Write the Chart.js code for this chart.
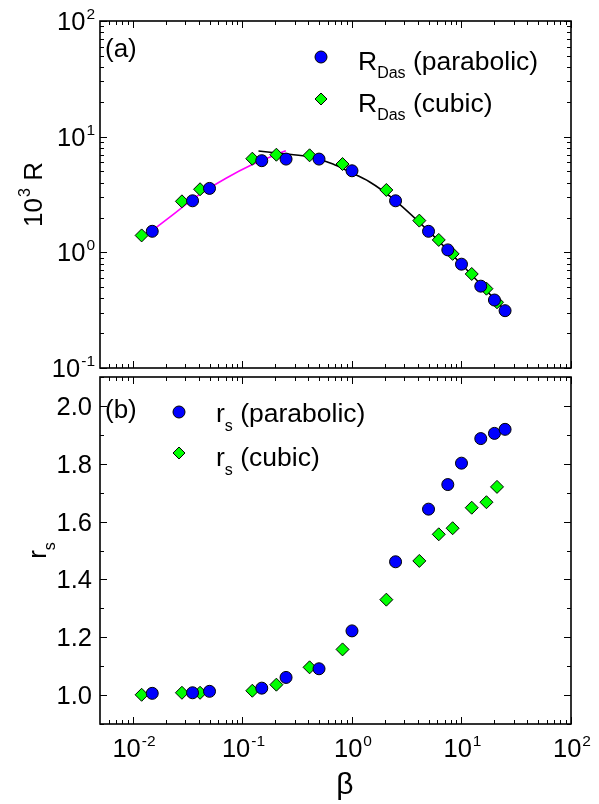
<!DOCTYPE html>
<html>
<head>
<meta charset="utf-8">
<script src="https://cdn.jsdelivr.net/npm/chart.js@4.4.1/dist/chart.umd.min.js"></script>
<style>
  html, body { margin: 0; padding: 0; background: #ffffff; }
  #wrap { position: relative; width: 599px; height: 804px; }
  #wrap canvas { position: absolute; left: 0; top: 0; }
</style>
</head>
<body>
<div id="wrap">
  <canvas id="panelA" width="599" height="804"></canvas>
  <canvas id="panelB" width="599" height="804"></canvas>
</div>
<script>
// ---- data ----
const betaParabolic = [0.015, 0.035, 0.05, 0.15, 0.25, 0.5, 1.0, 2.5, 5.0, 7.5, 10, 15, 20, 25];
const betaCubic     = [0.012, 0.028, 0.041, 0.123, 0.204, 0.41, 0.82, 2.06, 4.12, 6.2, 8.3, 12.4, 16.9, 21.1];

// 10^3 R
const rDasParabolic = [1.52, 2.79, 3.57, 6.2, 6.4, 6.4, 5.07, 2.79, 1.52, 1.05, 0.79, 0.51, 0.387, 0.313];
const rDasCubic     = [1.40, 2.76, 3.51, 6.45, 6.98, 6.90, 5.80, 3.46, 1.88, 1.28, 0.97, 0.65, 0.485, 0.37];

// r_s
const rsParabolic = [1.006, 1.008, 1.013, 1.024, 1.061, 1.091, 1.222, 1.461, 1.643, 1.728, 1.802, 1.887, 1.905, 1.919];
const rsCubic     = [1.001, 1.008, 1.008, 1.015, 1.036, 1.096, 1.158, 1.330, 1.464, 1.556, 1.577, 1.648, 1.667, 1.720];

// fitted curves in panel (a)
const fitLowBeta  = [0.015, 0.0229, 0.0373, 0.0701, 0.123, 0.249];
const fitLowR     = [1.54, 2.10, 3.00, 4.35, 5.75, 7.56];
const fitHighBeta = [0.14, 0.25, 0.41, 0.67, 0.94, 1.44, 2.35, 4.95, 9.95, 20.1, 25];
const fitHighR    = [7.51, 7.08, 6.71, 5.80, 4.98, 4.08, 2.93, 1.54, 0.792, 0.392, 0.313];

// axis ticks
const betaDecades = [-2, -1, 0, 1, 2];
const rDecades    = [-1, 0, 1, 2];
const rsMajor     = [1.0, 1.2, 1.4, 1.6, 1.8, 2.0];
const rsMinor     = [0.9, 1.1, 1.3, 1.5, 1.7, 1.9, 2.1];

const FONT = "'Liberation Sans', Arial, Helvetica, sans-serif";
const BLUE = '#0000ff';
const GREEN = '#00ff00';
const TICK_FONT = 25.5, EXP_FONT = 15.5;

function pts(xs, ys) { return xs.map((x, i) => ({ x: x, y: ys[i] })); }

function logMinors(min, max) {
  const out = [];
  for (let d = Math.floor(Math.log10(min)) - 1; d <= Math.ceil(Math.log10(max)); d++) {
    for (let m = 2; m <= 9; m++) {
      const v = m * Math.pow(10, d);
      if (v > min && v < max) out.push(v);
    }
  }
  return out;
}

function drawCircle(ctx, x, y, r) {
  ctx.beginPath(); ctx.arc(x, y, r, 0, Math.PI * 2);
  ctx.fillStyle = BLUE; ctx.fill();
  ctx.lineWidth = 1; ctx.strokeStyle = '#000'; ctx.stroke();
}
function drawDiamond(ctx, x, y, r) {
  ctx.beginPath();
  ctx.moveTo(x, y - r); ctx.lineTo(x + r, y); ctx.lineTo(x, y + r); ctx.lineTo(x - r, y); ctx.closePath();
  ctx.fillStyle = GREEN; ctx.fill();
  ctx.lineWidth = 1; ctx.strokeStyle = '#000'; ctx.stroke();
}

// "10" with a raised exponent
function powWidth(ctx, exp, size, expSize) {
  ctx.font = size + 'px ' + FONT; const a = ctx.measureText('10').width;
  ctx.font = expSize + 'px ' + FONT; const b = ctx.measureText(String(exp)).width;
  return a + b + 1;
}
function drawPow(ctx, exp, x, baseline, size, expSize) {
  ctx.textAlign = 'left'; ctx.textBaseline = 'alphabetic'; ctx.fillStyle = '#000';
  ctx.font = size + 'px ' + FONT;
  ctx.fillText('10', x, baseline);
  const a = ctx.measureText('10').width;
  ctx.font = expSize + 'px ' + FONT;
  ctx.fillText(String(exp), x + a + 1, baseline - 11);
}

// text with a lowered subscript
function drawSub(ctx, main, sub, rest, x, baseline, size, subSize, drop) {
  ctx.textAlign = 'left'; ctx.textBaseline = 'alphabetic'; ctx.fillStyle = '#000';
  ctx.font = size + 'px ' + FONT;
  ctx.fillText(main, x, baseline);
  let cx = x + ctx.measureText(main).width;
  ctx.font = subSize + 'px ' + FONT;
  ctx.fillText(sub, cx, baseline + drop);
  cx += ctx.measureText(sub).width;
  ctx.font = size + 'px ' + FONT;
  ctx.fillText(rest, cx, baseline);
}

// frame and inward ticks on all four sides
function drawFrame(chart, yMajor, yMinor) {
  const ctx = chart.ctx;
  const a = chart.chartArea;
  const xs = chart.scales.x, ys = chart.scales.y;
  const MAJ = 7, MIN = 4;
  ctx.save();
  ctx.strokeStyle = '#000';
  ctx.lineWidth = 1;
  ctx.beginPath();
  const xMaj = betaDecades.map(d => Math.pow(10, d));
  const xMin = logMinors(xs.min, xs.max);
  xMaj.forEach(v => { const p = Math.round(xs.getPixelForValue(v)) + 0.5;
    ctx.moveTo(p, a.bottom); ctx.lineTo(p, a.bottom - MAJ);
    ctx.moveTo(p, a.top); ctx.lineTo(p, a.top + MAJ); });
  xMin.forEach(v => { const p = Math.round(xs.getPixelForValue(v)) + 0.5;
    ctx.moveTo(p, a.bottom); ctx.lineTo(p, a.bottom - MIN);
    ctx.moveTo(p, a.top); ctx.lineTo(p, a.top + MIN); });
  yMajor.forEach(v => { const p = Math.round(ys.getPixelForValue(v)) + 0.5;
    ctx.moveTo(a.left, p); ctx.lineTo(a.left + MAJ, p);
    ctx.moveTo(a.right, p); ctx.lineTo(a.right - MAJ, p); });
  yMinor.forEach(v => { const p = Math.round(ys.getPixelForValue(v)) + 0.5;
    ctx.moveTo(a.left, p); ctx.lineTo(a.left + MIN, p);
    ctx.moveTo(a.right, p); ctx.lineTo(a.right - MIN, p); });
  ctx.stroke();
  ctx.lineWidth = 1.6;
  ctx.strokeRect(a.left, a.top, a.right - a.left, a.bottom - a.top);
  ctx.restore();
}

const panelAPlugin = {
  id: 'panelADecor',
  afterDraw(chart) {
    const ctx = chart.ctx, a = chart.chartArea, ys = chart.scales.y;
    const yMaj = rDecades.map(d => Math.pow(10, d));
    drawFrame(chart, yMaj, logMinors(ys.min, ys.max));
    ctx.save();
    // left tick labels
    rDecades.forEach(d => {
      const p = ys.getPixelForValue(Math.pow(10, d));
      const w = powWidth(ctx, d, TICK_FONT, EXP_FONT);
      drawPow(ctx, d, 95 - w, p + 9, TICK_FONT, EXP_FONT);
    });
    // axis title 10^3 R
    ctx.translate(33, (a.top + a.bottom) / 2);
    ctx.rotate(-Math.PI / 2);
    ctx.font = '26px ' + FONT; const w1 = ctx.measureText('10').width; const w3 = ctx.measureText(' R').width;
    ctx.font = '16px ' + FONT; const w2 = ctx.measureText('3').width;
    const tw = w1 + w2 + 1 + w3;
    const sx = -tw / 2;
    ctx.fillStyle = '#000'; ctx.textAlign = 'left'; ctx.textBaseline = 'alphabetic';
    ctx.font = '26px ' + FONT; ctx.fillText('10', sx, 9);
    ctx.font = '16px ' + FONT; ctx.fillText('3', sx + w1 + 1, -3);
    ctx.font = '26px ' + FONT; ctx.fillText(' R', sx + w1 + w2 + 1, 9);
    ctx.restore();
    ctx.save();
    // panel label
    ctx.fillStyle = '#000'; ctx.font = '26px ' + FONT; ctx.textAlign = 'left';
    ctx.fillText('(a)', 105, 57);
    // legend
    drawCircle(ctx, 321, 57, 6);
    drawSub(ctx, 'R', 'Das', ' (parabolic)', 358, 69.5, 26.5, 16, 8.5);
    drawDiamond(ctx, 321, 99, 6);
    drawSub(ctx, 'R', 'Das', ' (cubic)', 358, 111.5, 26.5, 16, 8.5);
    ctx.restore();
  }
};

const panelBPlugin = {
  id: 'panelBDecor',
  afterDraw(chart) {
    const ctx = chart.ctx, a = chart.chartArea, xs = chart.scales.x, ys = chart.scales.y;
    drawFrame(chart, rsMajor, rsMinor);
    ctx.save();
    // left tick labels
    ctx.fillStyle = '#000'; ctx.font = TICK_FONT + 'px ' + FONT; ctx.textAlign = 'right'; ctx.textBaseline = 'alphabetic';
    rsMajor.forEach(v => {
      const p = ys.getPixelForValue(v);
      ctx.fillText(v.toFixed(1), 92, p + 9);
    });
    // bottom tick labels
    betaDecades.forEach(d => {
      const p = xs.getPixelForValue(Math.pow(10, d));
      const w = powWidth(ctx, d, TICK_FONT, EXP_FONT);
      drawPow(ctx, d, p - w / 2 + 1, 757, TICK_FONT, EXP_FONT);
    });
    // x title
    ctx.font = '30px ' + FONT; ctx.textAlign = 'center'; ctx.fillStyle = '#000';
    ctx.fillText('\u03B2', 345, 794);
    // y title r_s
    ctx.save();
    ctx.translate(40, (a.top + a.bottom) / 2);
    ctx.rotate(-Math.PI / 2);
    ctx.font = '26px ' + FONT; const wr = ctx.measureText('r').width;
    ctx.font = '16px ' + FONT; const wsub = ctx.measureText('s').width;
    const sx = -(wr + wsub) / 2;
    ctx.textAlign = 'left';
    ctx.font = '26px ' + FONT; ctx.fillText('r', sx, 6);
    ctx.font = '16px ' + FONT; ctx.fillText('s', sx + wr, 15);
    ctx.restore();
    // panel label
    ctx.font = '26px ' + FONT; ctx.textAlign = 'left';
    ctx.fillText('(b)', 105, 418);
    // legend
    drawCircle(ctx, 179, 412, 6);
    drawSub(ctx, 'r', 's', ' (parabolic)', 216, 422, 26.5, 16, 9);
    drawDiamond(ctx, 179, 453, 6);
    drawSub(ctx, 'r', 's', ' (cubic)', 216, 466, 26.5, 16, 9);
    ctx.restore();
  }
};

function markerSet(label, xs, ys, shape, color, order) {
  return {
    label: label, data: pts(xs, ys), showLine: false, order: order,
    pointStyle: shape, pointRadius: shape === 'circle' ? 6 : 6.5,
    pointBackgroundColor: color, pointBorderColor: '#000', pointBorderWidth: 1,
    pointHoverRadius: shape === 'circle' ? 6 : 6.5
  };
}
function lineSet(label, xs, ys, color, order) {
  return {
    label: label, data: pts(xs, ys), showLine: true, order: order,
    borderColor: color, borderWidth: 1.6, pointRadius: 0, pointHoverRadius: 0,
    cubicInterpolationMode: 'monotone', fill: false
  };
}

const common = {
  responsive: false,
  devicePixelRatio: 1,
  animation: false,
  events: [],
  plugins: { legend: { display: false }, tooltip: { enabled: false } }
};

new Chart(document.getElementById('panelA'), {
  type: 'scatter',
  data: {
    datasets: [
      markerSet('R_Das (parabolic)', betaParabolic, rDasParabolic, 'circle', BLUE, 0),
      markerSet('R_Das (cubic)', betaCubic, rDasCubic, 'rectRot', GREEN, 1),
      lineSet('fit high', fitHighBeta, fitHighR, '#000000', 2),
      lineSet('fit low', fitLowBeta, fitLowR, '#ff00ff', 3)
    ]
  },
  options: Object.assign({}, common, {
    layout: { padding: { left: 100, right: 28, top: 21, bottom: 436 } },
    scales: {
      x: { type: 'logarithmic', min: 0.005, max: 100, display: false },
      y: { type: 'logarithmic', min: 0.1, max: 100, display: false }
    }
  }),
  plugins: [panelAPlugin]
});

new Chart(document.getElementById('panelB'), {
  type: 'scatter',
  data: {
    datasets: [
      markerSet('r_s (parabolic)', betaParabolic, rsParabolic, 'circle', BLUE, 0),
      markerSet('r_s (cubic)', betaCubic, rsCubic, 'rectRot', GREEN, 1)
    ]
  },
  options: Object.assign({}, common, {
    layout: { padding: { left: 100, right: 28, top: 377, bottom: 80 } },
    scales: {
      x: { type: 'logarithmic', min: 0.005, max: 100, display: false },
      y: { type: 'linear', min: 0.9, max: 2.1, display: false }
    }
  }),
  plugins: [panelBPlugin]
});
</script>
</body>
</html>
